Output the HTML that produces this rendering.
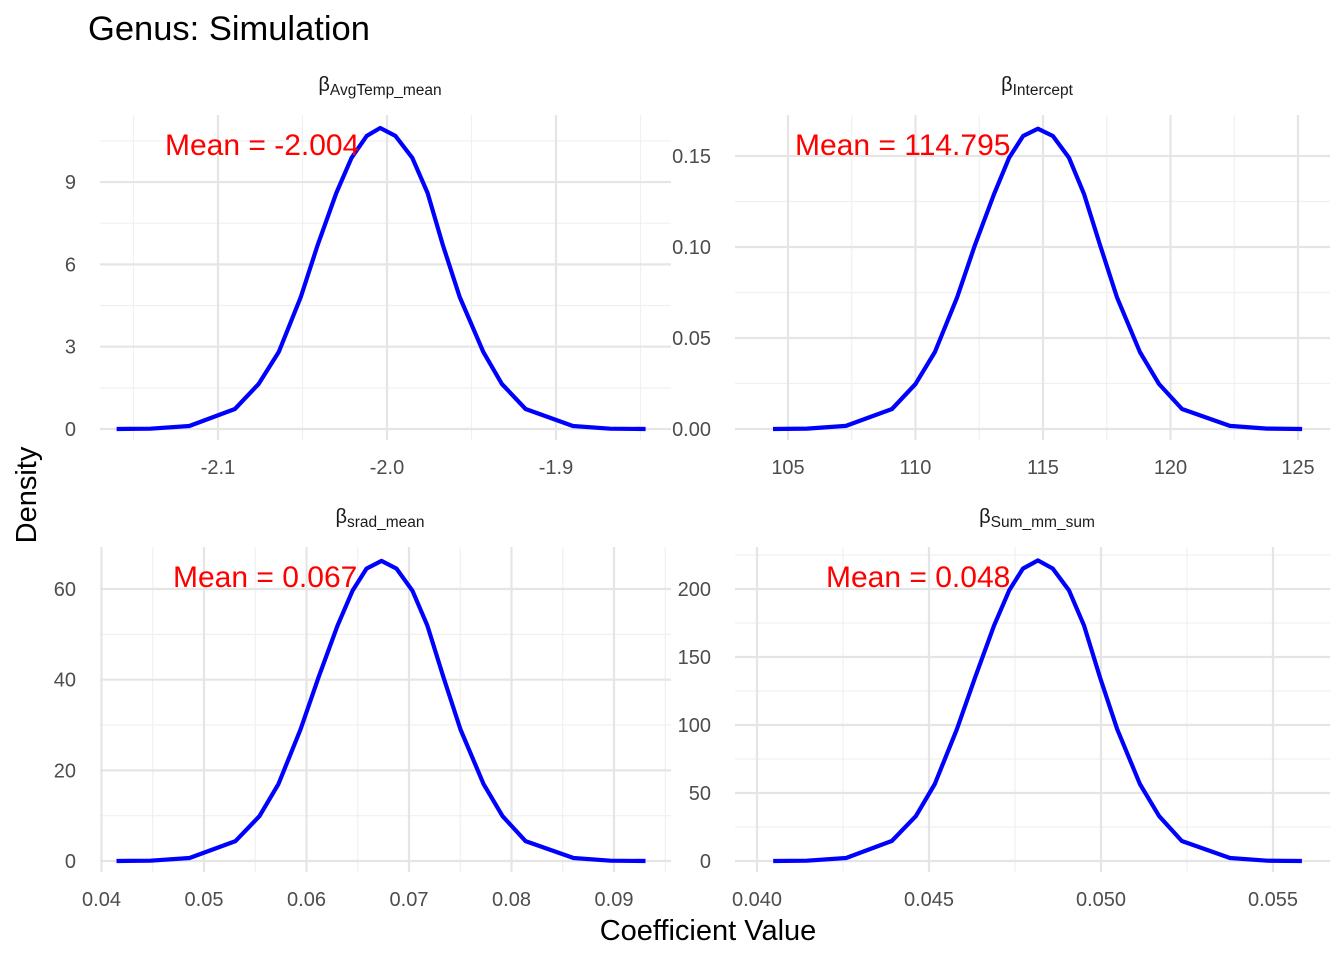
<!DOCTYPE html>
<html><head><meta charset="utf-8"><style>
body{margin:0;background:#fff;font-family:"Liberation Sans",Arial,sans-serif}
svg text{font-family:"Liberation Sans",Arial,sans-serif}
</style></head><body>
<svg id="c" width="1344" height="960">
<text x="88" y="40" font-size="34.5" fill="#000">Genus: Simulation</text>
<text transform="translate(36,495) rotate(-90)" font-size="29" text-anchor="middle" fill="#000">Density</text>
<text x="708" y="940" font-size="29" text-anchor="middle" fill="#000">Coefficient Value</text>
</svg>
<script>
// Panel data
const p1X=[-2.160,-2.140,-2.117,-2.090,-2.076,-2.064,-2.051,-2.041,-2.030,-2.021,-2.012,-2.004,-1.995,-1.985,-1.976,-1.967,-1.957,-1.943,-1.932,-1.918,-1.890,-1.868,-1.847];
const p1Y=[0,0.01,0.11,0.73,1.64,2.81,4.81,6.71,8.6,9.88,10.68,10.97,10.68,9.88,8.6,6.71,4.81,2.81,1.64,0.73,0.11,0.01,0];
const p2X=[104.41,105.75,107.27,109.08,110.0,110.76,111.63,112.33,113.08,113.67,114.22,114.80,115.39,116.02,116.61,117.24,117.90,118.8,119.55,120.45,122.33,123.78,125.16];
const p2Y=[0,0.0002,0.0017,0.011,0.0247,0.0423,0.0723,0.101,0.129,0.149,0.161,0.165,0.161,0.149,0.129,0.101,0.0723,0.0423,0.0247,0.011,0.0017,0.0002,0];
const p3X=[0.04146,0.04478,0.04859,0.05307,0.05541,0.05727,0.05941,0.06117,0.06302,0.06449,0.06585,0.06732,0.06878,0.07034,0.0718,0.07337,0.07502,0.07727,0.07912,0.08137,0.08605,0.08966,0.09307];
const p3Y=[0,0.06,0.66,4.4,9.9,17.0,29.0,40.5,51.9,59.6,64.5,66.2,64.5,59.6,51.9,40.5,29.0,17.0,9.9,4.4,0.66,0.06,0];
const p4X=[0.04047,0.04145,0.04259,0.04392,0.04462,0.04517,0.04581,0.04634,0.04689,0.04733,0.04773,0.04817,0.0486,0.04907,0.04951,0.04997,0.05047,0.05113,0.05169,0.05235,0.05375,0.05483,0.05584];
const p4Y=[0,0.2,2.2,14.7,33,56.6,96.9,135,173,199,215,221,215,199,173,135,96.9,56.6,33,14.7,2.2,0.2,0];
const p1XT=[-2.1,-2.0,-1.9], p1XL=["-2.1","-2.0","-1.9"], p1YT=[0,3,6,9], p1YL=["0","3","6","9"];
const p2XT=[105,110,115,120,125], p2XL=["105","110","115","120","125"], p2YT=[0,0.05,0.10,0.15], p2YL=["0.00","0.05","0.10","0.15"];
const p3XT=[0.04,0.05,0.06,0.07,0.08,0.09], p3XL=["0.04","0.05","0.06","0.07","0.08","0.09"], p3YT=[0,20,40,60], p3YL=["0","20","40","60"];
const p4XT=[0.040,0.045,0.050,0.055], p4XL=["0.040","0.045","0.050","0.055"], p4YT=[0,50,100,150,200], p4YL=["0","50","100","150","200"];
const means=["Mean = -2.004","Mean = 114.795","Mean = 0.067","Mean = 0.048"];
const subs=["AvgTemp_mean","Intercept","srad_mean","Sum_mm_sum"];

const svg=document.getElementById('c');
const NS='http://www.w3.org/2000/svg';
function mk(t,a){const e=document.createElementNS(NS,t);for(const k in a)e.setAttribute(k,a[k]);svg.appendChild(e);return e;}

const panels=[
 {X:p1X,Y:p1Y,XT:p1XT,XL:p1XL,YT:p1YT,YL:p1YL,l:100,r:671,t:115,b:440,x0:-2.0,px0:387,xs:1690,y0px:429,ys:27.44,mx:165,my:155,sx:380,sy:91},
 {X:p2X,Y:p2Y,XT:p2XT,XL:p2XL,YT:p2YT,YL:p2YL,l:735,r:1330,t:115,b:440,x0:115,px0:1043,xs:25.5,y0px:429,ys:1820,mx:795,my:155,sx:1037,sy:91},
 {X:p3X,Y:p3Y,XT:p3XT,XL:p3XL,YT:p3YT,YL:p3YL,l:100,r:671,t:547,b:872,x0:0.07,px0:409,xs:10250,y0px:861,ys:4.533,mx:173,my:587,sx:380,sy:523},
 {X:p4X,Y:p4Y,XT:p4XT,XL:p4XL,YT:p4YT,YL:p4YL,l:735,r:1330,t:547,b:872,x0:0.05,px0:1101,xs:34400,y0px:861,ys:1.36,mx:826,my:587,sx:1037,sy:523}
];
panels.forEach((p,i)=>{
 const fx=v=>p.px0+(v-p.x0)*p.xs, fy=v=>p.y0px-v*p.ys;
 const dx=p.XT[1]-p.XT[0], dy=p.YT[1]-p.YT[0];
 for(let k=-1;k<=p.XT.length;k++){const v=p.XT[0]+(k+0.5)*dx;const x=fx(v);if(x>p.l&&x<p.r){const g=mk('line',{x1:x,x2:x,y1:p.t,y2:p.b,stroke:'#f0f0f0','stroke-width':1.2});

}}
 for(let k=-1;k<=p.YT.length;k++){const v=p.YT[0]+(k+0.5)*dy;const y=fy(v);if(y>p.t&&y<p.b){const g=mk('line',{x1:p.l,x2:p.r,y1:y,y2:y,stroke:'#f0f0f0','stroke-width':1.2});

}}
 p.XT.forEach((v,k)=>{const x=fx(v);const g=mk('line',{x1:x,x2:x,y1:p.t,y2:p.b,stroke:'#e5e5e5','stroke-width':2.2});


const t=mk('text',{x:x,y:p.b+34,'font-size':20,fill:'#4d4d4d','text-anchor':'middle'});t.textContent=p.XL[k];

});
 p.YT.forEach((v,k)=>{const y=fy(v);const g=mk('line',{x1:p.l,x2:p.r,y1:y,y2:y,stroke:'#e5e5e5','stroke-width':2.2});


const t=mk('text',{x:p.l-24,y:y+7,'font-size':20,fill:'#4d4d4d','text-anchor':'end'});t.textContent=p.YL[k];

});
 const pts=p.X.map((v,k)=>fx(v).toFixed(1)+','+fy(p.Y[k]).toFixed(1)).join(' ');
 const line=mk('polyline',{points:pts,fill:'none',stroke:'#0000ff','stroke-width':4.2,'stroke-linejoin':'round'});
 
 
 const m=mk('text',{x:p.mx,y:p.my,'font-size':30,fill:'#ff0000'});m.textContent=means[i];
 
 
 const s=mk('text',{x:p.sx,y:p.sy,'font-size':20,fill:'#1a1a1a','text-anchor':'middle'});
 s.innerHTML='β<tspan font-size="15.5" dy="4">'+subs[i]+'</tspan>';
 
 
});
</script>
</body></html>
